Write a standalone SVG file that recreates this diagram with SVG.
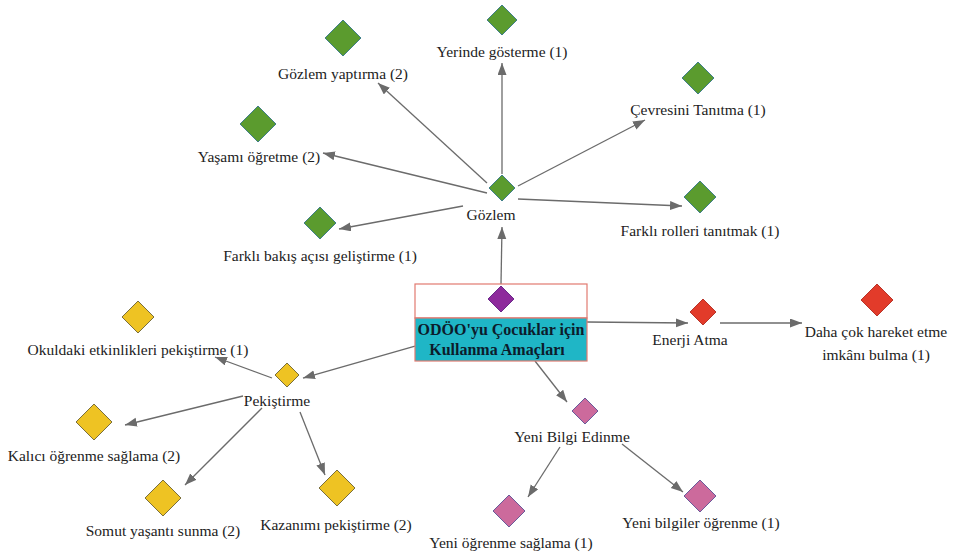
<svg xmlns="http://www.w3.org/2000/svg" width="961" height="556" viewBox="0 0 961 556">
<style>
text{font-family:"Liberation Serif","Times New Roman",serif;font-size:15.5px;fill:#222;text-anchor:middle}
.c line{stroke:#6b6b6b;stroke-width:1.3;marker-end:url(#ah)}
.g{fill:#5b9b2e;stroke:#3f7f8a;stroke-width:1}
.y{fill:#eec323;stroke:#7a6f3c;stroke-width:1}
.p{fill:#cc6a9c;stroke:#6a5a9a;stroke-width:1}
.r{fill:#e23b2a;stroke:#b8352a;stroke-width:1}
.v{fill:#8e2a9c;stroke:#6a2a8a;stroke-width:1}
.b{font-weight:bold;font-size:16px;fill:#0c1c2c}
</style>
<defs>
<marker id="ah" markerUnits="userSpaceOnUse" markerWidth="13" markerHeight="10" refX="12" refY="4.5" orient="auto">
<path d="M0,0 L12,4.5 L0,9 z" fill="#6b6b6b"/>
</marker>
</defs>
<g class="c" id="connectors">
<line x1="501" y1="284" x2="502" y2="227"/>
<line x1="502" y1="174" x2="502" y2="63"/>
<line x1="487" y1="183" x2="378" y2="83"/>
<line x1="487" y1="193" x2="323" y2="153"/>
<line x1="463" y1="206" x2="339" y2="229"/>
<line x1="518" y1="186" x2="645" y2="120"/>
<line x1="518" y1="199" x2="682" y2="206"/>
<line x1="587" y1="322" x2="688" y2="323"/>
<line x1="720" y1="323" x2="802" y2="323"/>
<line x1="415" y1="346" x2="303" y2="378"/>
<line x1="272" y1="378" x2="215" y2="357"/>
<line x1="243" y1="396" x2="125" y2="425"/>
<line x1="262" y1="408" x2="185" y2="485"/>
<line x1="300" y1="412" x2="325" y2="475"/>
<line x1="535" y1="361" x2="567" y2="402"/>
<line x1="560" y1="447" x2="528" y2="497"/>
<line x1="622" y1="444" x2="683" y2="492"/>
</g>
<g id="center">
<rect x="415" y="284" width="172" height="34" fill="#fff" stroke="#e27a70" stroke-width="1.2"/>
<rect x="415" y="318" width="172" height="43" fill="#1fb6c6" stroke="#e27a70" stroke-width="1.2"/>
<path class="v" d="M501,286 L514,299 L501,312 L488,299 z"/>
<text class="b" x="501" y="335">ODÖO'yu Çocuklar için</text>
<text class="b" x="497" y="355">Kullanma Amaçları</text>
</g>
<g id="gozlem"><path class="g" d="M502,175 L515,188 L502,201 L489,188 z"/><text x="491" y="220">Gözlem</text></g>
<g id="yerinde"><path class="g" d="M502,5 L517,20 L502,35 L487,20 z"/><text x="502" y="57">Yerinde gösterme (1)</text></g>
<g id="gozlem-yaptirma"><path class="g" d="M343,20 L361,38 L343,56 L325,38 z"/><text x="343" y="79">Gözlem yaptırma (2)</text></g>
<g id="yasami"><path class="g" d="M258,106 L276,124 L258,142 L240,124 z"/><text x="259" y="162">Yaşamı öğretme (2)</text></g>
<g id="farkli-bakis"><path class="g" d="M320,207 L336,223 L320,239 L304,223 z"/><text x="320" y="261">Farklı bakış açısı geliştirme (1)</text></g>
<g id="cevresini"><path class="g" d="M698,62 L714,78 L698,94 L682,78 z"/><text x="698" y="115">Çevresini Tanıtma (1)</text></g>
<g id="farkli-rolleri"><path class="g" d="M700,181 L716,197 L700,213 L684,197 z"/><text x="700" y="236">Farklı rolleri tanıtmak (1)</text></g>
<g id="enerji"><path class="r" d="M703,299 L716,312 L703,325 L690,312 z"/><text x="690" y="345">Enerji Atma</text></g>
<g id="daha"><path class="r" d="M877,284 L893,300 L877,316 L861,300 z"/><text x="876" y="337">Daha çok hareket etme</text><text x="876" y="360">imkânı bulma (1)</text></g>
<g id="pekistirme"><path class="y" d="M287,363 L299,375 L287,387 L275,375 z"/><text x="277" y="406">Pekiştirme</text></g>
<g id="okuldaki"><path class="y" d="M138,301 L154,317 L138,333 L122,317 z"/><text x="138" y="355">Okuldaki etkinlikleri pekiştirme (1)</text></g>
<g id="kalici"><path class="y" d="M94,404 L112,422 L94,440 L76,422 z"/><text x="94" y="461">Kalıcı öğrenme sağlama (2)</text></g>
<g id="somut"><path class="y" d="M163,480 L181,498 L163,516 L145,498 z"/><text x="163" y="536">Somut yaşantı sunma (2)</text></g>
<g id="kazanimi"><path class="y" d="M337,470 L355,488 L337,506 L319,488 z"/><text x="336" y="530">Kazanımı pekiştirme (2)</text></g>
<g id="yeni-bilgi"><path class="p" d="M585,398 L598,411 L585,424 L572,411 z"/><text x="572" y="442">Yeni Bilgi Edinme</text></g>
<g id="yeni-ogrenme"><path class="p" d="M509,495 L525,511 L509,527 L493,511 z"/><text x="511" y="548">Yeni öğrenme sağlama (1)</text></g>
<g id="yeni-bilgiler"><path class="p" d="M700,480 L716,496 L700,512 L684,496 z"/><text x="701" y="528">Yeni bilgiler öğrenme (1)</text></g>
</svg>
